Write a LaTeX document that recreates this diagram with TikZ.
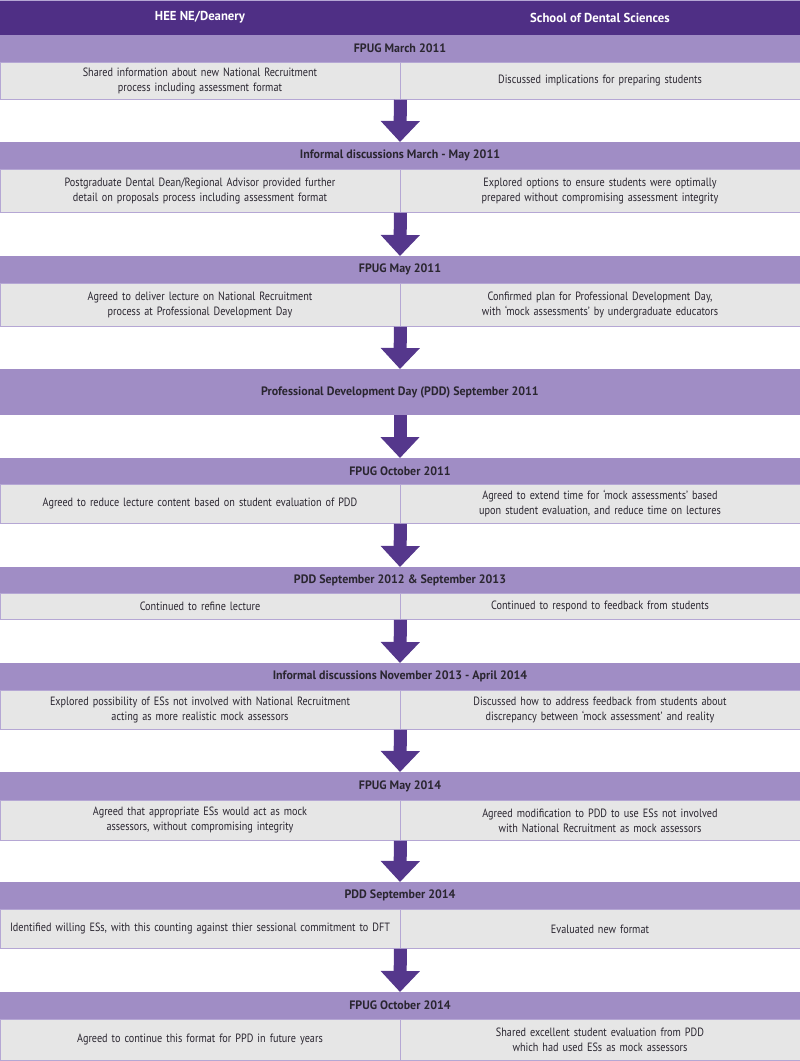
\documentclass[tikz,border=0pt]{standalone}
\usepackage{fontspec,xcolor,tikz}
\setmainfont[FakeStretch=0.85,BoldFeatures={FakeStretch=0.98}]{PT Sans}
\usetikzlibrary{arrows.meta}
\definecolor{headpurple}{HTML}{4F2F85}
\definecolor{arrowpurple}{HTML}{55378C}
\definecolor{barpurple}{HTML}{A08DC5}
\definecolor{cellgrey}{HTML}{E6E6E6}
\definecolor{rulepurple}{HTML}{B5A7D4}
\definecolor{ink}{HTML}{2A2630}
\newcommand{\celltxt}{\fontsize{12}{15}\selectfont}
\newcommand{\bartxt}{\fontsize{12.2}{14}\selectfont\bfseries}
\newcommand{\headtxt}{\fontsize{13}{15}\selectfont\bfseries}
\tikzset{headbox/.style={anchor=north,fill=headpurple,text=white,font=\headtxt,
    minimum width=400pt,minimum height=35pt,inner sep=0},
  stagebar/.style={anchor=north,fill=barpurple,text=ink,font=\bartxt,
    minimum width=800pt,minimum height=27pt,inner sep=0},
  cell/.style={anchor=north,fill=cellgrey,draw=rulepurple,line width=0.8pt,text=ink,
    font=\celltxt,align=center,text width=394pt,minimum width=400pt,inner sep=0},
  flowpfeil/.style={arrowpurple,line width=13pt,-{Triangle[length=21pt,width=38pt]}}}
\begin{document}
\begin{tikzpicture}[x=1pt,y=-1pt]
\useasboundingbox (0,0) rectangle (800,1061);
\node[headbox] (hl) at (200,0) {HEE NE/Deanery};
\node[headbox] (hr) at (600,0) {School of Dental Sciences};
% FPUG March 2011
\node[stagebar] (b1) at (400,35) {FPUG March 2011};
\node[cell,minimum height=37pt] (l1) at (200,62) {Shared information about new National Recruitment\\process including assessment format};
\node[cell,minimum height=37pt] (r1) at (600,62) {Discussed implications for preparing students};
% Informal discussions
\node[stagebar] (b2) at (400,142) {Informal discussions March - May 2011};
\node[cell,minimum height=43pt] (l2) at (200,169) {Postgraduate Dental Dean/Regional Advisor provided further\\detail on proposals process including assessment format};
\node[cell,minimum height=43pt] (r2) at (600,169) {Explored options to ensure students were optimally\\prepared without compromising assessment integrity};
% FPUG May 2011
\node[stagebar] (b3) at (400,256) {FPUG May 2011};
\node[cell,minimum height=43pt] (l3) at (200,283) {Agreed to deliver lecture on National Recruitment\\process at Professional Development Day};
\node[cell,minimum height=43pt] (r3) at (600,283) {Confirmed plan for Professional Development Day,\\with ‘mock assessments’ by undergraduate educators};
% PDD 2011
\node[stagebar,minimum height=46pt] (b4) at (400,369) {Professional Development Day (PDD) September 2011};
% FPUG October 2011
\node[stagebar,minimum height=26pt] (b5) at (400,458) {FPUG October 2011};
\node[cell,minimum height=39pt] (l5) at (200,484) {Agreed to reduce lecture content based on student evaluation of PDD};
\node[cell,minimum height=39pt] (r5) at (600,484) {Agreed to extend time for ‘mock assessments’ based\\upon student evaluation, and reduce time on lectures};
% PDD 2012 & 2013
\node[stagebar,minimum height=26pt] (b6) at (400,567) {PDD September 2012 \& September 2013};
\node[cell,minimum height=26pt] (l6) at (200,593) {Continued to refine lecture};
\node[cell,minimum height=26pt] (r6) at (600,593) {Continued to respond to feedback from students};
% Informal discussions 2013-2014
\node[stagebar] (b7) at (400,663) {Informal discussions November 2013 - April 2014};
\node[cell,minimum height=39pt] (l7) at (200,690) {Explored possibility of ESs not involved with National Recruitment\\acting as more realistic mock assessors};
\node[cell,minimum height=39pt] (r7) at (600,690) {Discussed how to address feedback from students about\\discrepancy between ‘mock assessment’ and reality};
% FPUG May 2014
\node[stagebar,minimum height=28pt] (b8) at (400,772) {FPUG May 2014};
\node[cell,minimum height=40pt] (l8) at (200,800) {Agreed that appropriate ESs would act as mock\\assessors, without compromising integrity};
\node[cell,minimum height=40pt] (r8) at (600,800) {Agreed modification to PDD to use ESs not involved\\with National Recruitment as mock assessors};
% PDD September 2014
\node[stagebar] (b9) at (400,882) {PDD September 2014};
\node[cell,minimum height=39pt] (l9) at (200,909) {Identified willing ESs, with this counting against thier sessional commitment to DFT};
\node[cell,minimum height=39pt] (r9) at (600,909) {Evaluated new format};
% FPUG October 2014
\node[stagebar] (b10) at (400,992) {FPUG October 2014};
\node[cell,minimum height=41pt] (l10) at (200,1019) {Agreed to continue this format for PPD in future years};
\node[cell,minimum height=41pt] (r10) at (600,1019) {Shared excellent student evaluation from PDD\\which had used ESs as mock assessors};
% Pfeile
\draw[flowpfeil] (l1.south east) -- (b2.north);
\draw[flowpfeil] (l2.south east) -- (b3.north);
\draw[flowpfeil] (l3.south east) -- (b4.north);
\draw[flowpfeil] (b4.south) -- (b5.north);
\draw[flowpfeil] (l5.south east) -- (b6.north);
\draw[flowpfeil] (l6.south east) -- (b7.north);
\draw[flowpfeil] (l7.south east) -- (b8.north);
\draw[flowpfeil] (l8.south east) -- (b9.north);
\draw[flowpfeil] (l9.south east) -- (b10.north);
\draw[rulepurple,line width=1pt] (hl.north west) rectangle (l10.south west -| hr.north east);
\end{tikzpicture}
\end{document}
